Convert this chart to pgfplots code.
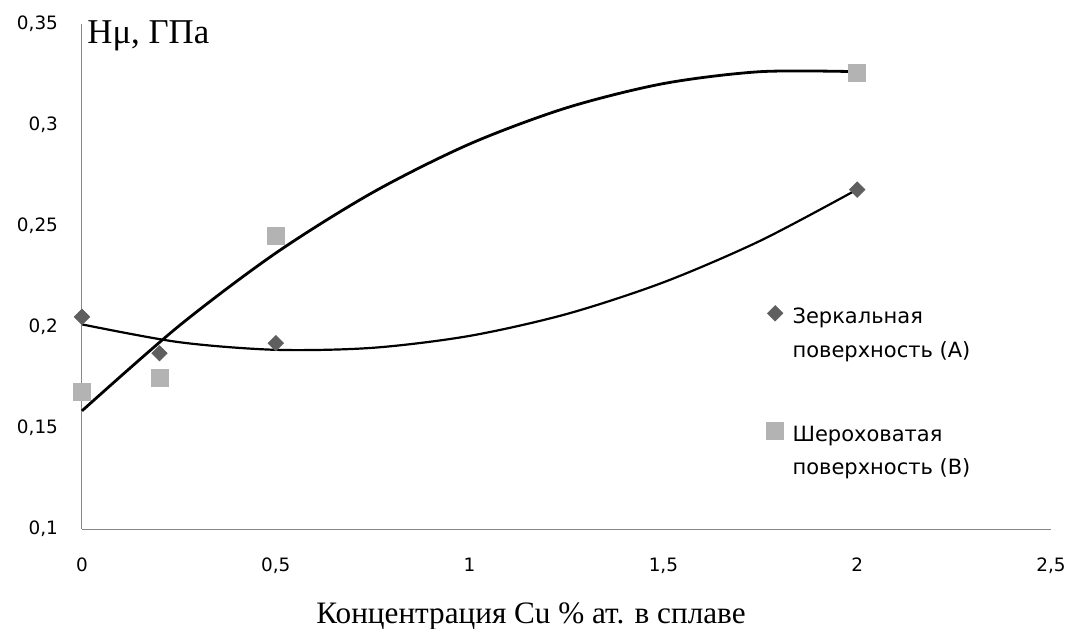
\documentclass[border=0pt]{standalone}
\usepackage{fontspec}
\setmainfont{Liberation Serif}
\newfontfamily\dsans{DejaVu Sans}
\usepackage{pgfplots}
\pgfplotsset{compat=1.18}
\definecolor{ptA}{HTML}{5F5F5F}
\definecolor{ptB}{HTML}{B3B3B3}
\definecolor{axgray}{HTML}{868686}
\pgfplotsset{onemark/.style={legend image code/.code={\draw[##1] plot coordinates {(0pt,0pt)};\path (6.5pt,0pt);}}}
\begin{document}
\begin{tikzpicture}
\useasboundingbox (0,0) rectangle (533.5pt,314pt);
\begin{axis}[
 at={(41pt,49.5pt)}, anchor=south west,
 scale only axis, width=484.5pt, height=252.5pt,
 xmin=0,xmax=2.5,ymin=0.1,ymax=0.35,
 axis x line*=bottom, axis y line*=left,
 axis line style={-, axgray, line width=0.5pt},
 xtick={0,0.5,1,1.5,2,2.5}, xticklabels={0,{0,5},1,{1,5},2,{2,5}},
 ytick={0.1,0.15,0.2,0.25,0.3,0.35}, yticklabels={{0,1},{0,15},{0,2},{0,25},{0,3},{0,35}},
 major tick length=0pt,
 tick label style={font=\dsans\fontsize{9.2}{11}\selectfont, text=black},
 xticklabel style={yshift=-11pt},
 yticklabel style={xshift=-8.5pt},
 clip=false,
 legend cell align=left,
 legend style={draw=none, fill=none, at={(0.700,0.470)}, anchor=north west,
   font=\dsans\fontsize{10.5}{16.75}\selectfont, row sep=41.75pt},
]
\addplot[only marks, mark=square*, mark size=2.7pt, mark options={rotate=45, fill=ptA, draw=ptA}, onemark]
  coordinates {(0,0.205) (0.2,0.187) (0.5,0.192) (2,0.268)};
\addlegendentry{\begin{tabular}[t]{@{}l@{}}Зеркальная\\поверхность (А)\end{tabular}}
\addplot[only marks, mark=square*, mark size=4.25pt, mark options={fill=ptB, draw=ptB}, onemark]
  coordinates {(0,0.168) (0.2,0.175) (0.5,0.245) (2,0.326)};
\addlegendentry{\begin{tabular}[t]{@{}l@{}}Шероховатая\\поверхность (В)\end{tabular}}
\addplot[black, line width=1.1pt, smooth, forget plot] coordinates {
 (0,0.2013) (0.25,0.1925) (0.5,0.1887) (0.75,0.1897) (1,0.1956) (1.25,0.2064)
 (1.5,0.2221) (1.75,0.2427) (2,0.2681)};
\addplot[black, line width=1.4pt, smooth, forget plot] coordinates {
 (0,0.1585) (0.25,0.2005) (0.5,0.2366) (0.75,0.2666) (1,0.2906) (1.25,0.3085)
 (1.5,0.3205) (1.75,0.3264) (2,0.3264)};
\node[anchor=base west, inner sep=0pt, font=\fontsize{17.4}{19}\selectfont]
  at (rel axis cs:0,1) [xshift=2.5pt, yshift=-9.5pt] {Hμ, ГПа};
\end{axis}
\node[anchor=base, inner sep=0pt, font=\fontsize{15.6}{18}\selectfont] at (265.5pt,2.5pt)
  {Концентрация Cu \% ат. в сплаве};
\end{tikzpicture}
\end{document}
